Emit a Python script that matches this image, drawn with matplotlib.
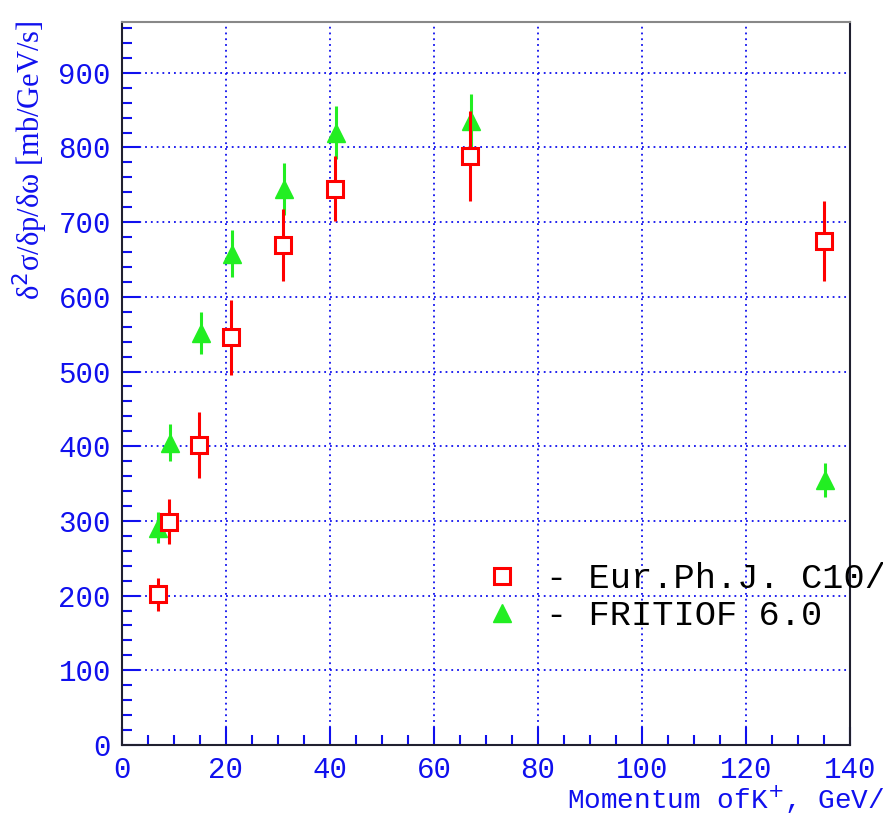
import matplotlib
matplotlib.use("Agg")
import matplotlib.pyplot as plt
from matplotlib.ticker import MultipleLocator
from matplotlib.lines import Line2D

# data
exp_x = [7.0, 9.0, 14.9, 21.0, 31.0, 41.0, 66.9, 135.0]
exp_y = [202, 299, 402, 546, 669, 745, 789, 675]
exp_err = [22, 30, 44, 50, 48, 44, 60, 54]

fri_x = [7.0, 9.2, 15.1, 21.2, 31.2, 41.2, 67.1, 135.2]
fri_y = [291, 405, 552, 658, 744, 820, 835, 355]
fri_err = [21, 25, 28, 31, 35, 35, 36, 23]

legend_labels = ["- Eur.Ph.J. C10/2000", "- FRITIOF 6.0"]
x_label = "Momentum ofK$^{+}$, GeV/c"
y_label = "δ$^{2}$σ/δp/δω [mb/GeV/s]"

BLUE = "#1010ee"
RED = "#ff0000"
GREEN = "#22ee22"
MONO = "Liberation Mono"

fig = plt.figure(figsize=(8.83, 8.15), dpi=100)
ax = fig.add_axes([122/883, 1-745/815, (850-122)/883, (745-22)/815])

ax.set_xlim(0, 140)
ax.set_ylim(0, 968)

ax.errorbar(fri_x, fri_y, yerr=fri_err, fmt='^', color=GREEN, ms=13,
            elinewidth=2.2, capsize=0, mec=GREEN, mfc=GREEN, zorder=3)
ax.errorbar(exp_x, exp_y, yerr=exp_err, fmt='s', color=RED, ms=12,
            elinewidth=2.2, capsize=0, mec=RED, mfc='white', mew=2.2, zorder=4)

ax.xaxis.set_major_locator(MultipleLocator(20))
ax.xaxis.set_minor_locator(MultipleLocator(5))
ax.yaxis.set_major_locator(MultipleLocator(100))
ax.yaxis.set_minor_locator(MultipleLocator(20))

ax.grid(True, which='major', color=BLUE, linestyle=(0, (1, 2.2)), linewidth=1.3)
ax.set_axisbelow(True)

ax.tick_params(which='both', direction='in', color=BLUE, labelcolor=BLUE,
               top=False, right=False, width=1.5)
ax.tick_params(which='major', length=13, labelsize=21, pad=8)
ax.tick_params(which='minor', length=7)
for lab in ax.get_xticklabels() + ax.get_yticklabels():
    lab.set_family(MONO)

for s in ['left', 'bottom', 'right']:
    ax.spines[s].set_color('#202030')
    ax.spines[s].set_linewidth(1.5)
ax.spines['top'].set_color('#888888')
ax.spines['top'].set_linewidth(1.5)

fig.text(567/883, 1-800/815, x_label, color=BLUE, fontsize=20, family=MONO,
         ha='left', va='center')

fig.text(30/883, 1-300/815, y_label, color=BLUE, fontsize=22,
         family=['Liberation Serif', 'DejaVu Serif'], rotation=90,
         ha='center', va='bottom')

# legend entries
h1 = Line2D([], [], marker='s', ls='none', color=RED, mfc='white', mew=2.2, ms=12)
h2 = Line2D([], [], marker='^', ls='none', color=GREEN, ms=13)
leg = ax.legend([h1, h2], legend_labels, loc='upper left',
                bbox_to_anchor=((470-122)/(850-122), (745-548)/(745-22)),
                frameon=False, prop={'family': MONO, 'size': 25.5},
                handlelength=1.0, handletextpad=0.75, labelspacing=0.12,
                borderaxespad=0)

fig.savefig("out.png", dpi=100)
